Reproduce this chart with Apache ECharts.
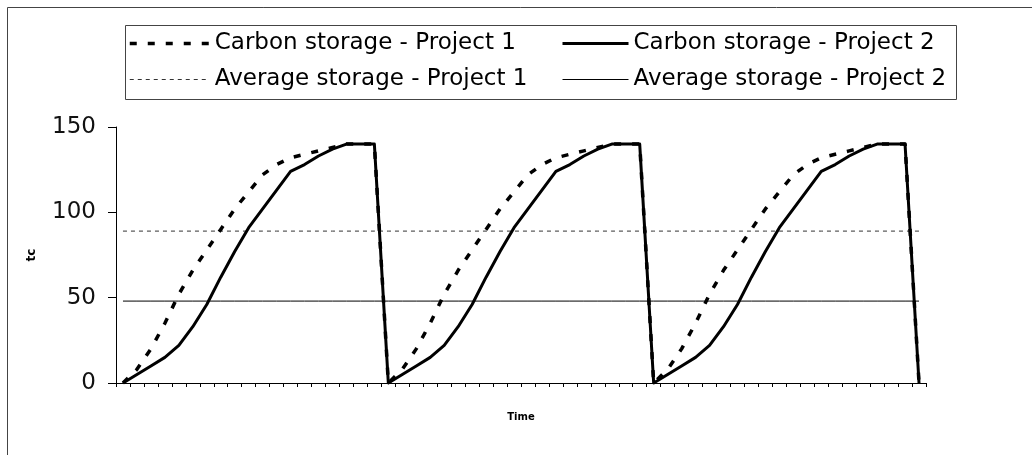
<!DOCTYPE html>
<html>
<head>
<meta charset="utf-8">
<script src="https://cdn.jsdelivr.net/npm/echarts@6/dist/echarts.min.js"></script>
<style>
html,body{margin:0;padding:0;background:#fff;}
#chart{width:1032px;height:455px;}
</style>
</head>
<body>
<div id="chart"></div>
<script>
// x categories (time steps, no tick labels shown)
const categories = [
  1,2,3,4,5,6,7,8,9,10,11,12,13,14,15,16,17,18,19,20,
  21,22,23,24,25,26,27,28,29,30,31,32,33,34,35,36,37,38,39,40,
  41,42,43,44,45,46,47,48,49,50,51,52,53,54,55,56,57,58
];
// Carbon storage - Project 1 (dashed thick)
const carbonP1 = [
  0, 8, 20, 35, 52, 66, 78, 90, 102, 112, 122, 128, 132, 134, 136, 138, 140, 140, 140,
  0, 8, 20, 35, 52, 66, 78, 90, 102, 112, 122, 128, 132, 134, 136, 138, 140, 140, 140,
  0, 8, 20, 35, 52, 66, 78, 90, 102, 112, 122, 128, 132, 134, 136, 138, 140, 140, 140,
  0
];
// Carbon storage - Project 2 (solid thick)
const carbonP2 = [
  0, 5, 10, 15, 22, 33, 46, 62, 77, 91, 102, 113, 124, 128, 133, 137, 140, 140, 140,
  0, 5, 10, 15, 22, 33, 46, 62, 77, 91, 102, 113, 124, 128, 133, 137, 140, 140, 140,
  0, 5, 10, 15, 22, 33, 46, 62, 77, 91, 102, 113, 124, 128, 133, 137, 140, 140, 140,
  0
];
// Average storage levels
const avgP1Value = 89;
const avgP2Value = 48;
const avgP1 = categories.map(() => avgP1Value);
const avgP2 = categories.map(() => avgP2Value);
// y axis ticks
const yMin = 0, yMax = 150, yInterval = 50;

const names = [
  'Carbon storage - Project 1',
  'Carbon storage - Project 2',
  'Average storage - Project 1',
  'Average storage - Project 2'
];

const chart = echarts.init(document.getElementById('chart'), null, {renderer: 'canvas'});
const legendText = {fontFamily: 'DejaVu Sans', fontSize: 23, color: '#000', lineHeight: 27};
const hiddenSymbol = {opacity: 0, color: 'rgba(0,0,0,0)', borderWidth: 0};
const legendLine = {width: 'inherit', type: 'inherit', color: 'inherit'};
chart.setOption({
  animation: false,
  backgroundColor: '#fff',
  graphic: [
    {type: 'rect', shape: {x: 7.5, y: 7.5, width: 1040, height: 470},
     style: {fill: 'none', stroke: '#444', lineWidth: 1}, silent: true, z: -1},
    {type: 'rect', shape: {x: 125.5, y: 25.5, width: 831, height: 74},
     style: {fill: 'none', stroke: '#444', lineWidth: 1}, silent: true, z: -1}
  ],
  legend: [
    {
      data: [names[0], names[2]],
      orient: 'vertical', left: 128, top: 30,
      itemWidth: 80, itemHeight: 14, itemGap: 9,
      itemStyle: hiddenSymbol, lineStyle: legendLine,
      textStyle: legendText, padding: 0
    },
    {
      data: [names[1], names[3]],
      orient: 'vertical', left: 561, top: 30,
      itemWidth: 66, itemHeight: 14, itemGap: 9,
      itemStyle: hiddenSymbol, lineStyle: legendLine,
      textStyle: legendText, padding: 0
    }
  ],
  grid: {left: 116, right: 106, top: 127, bottom: 72, containLabel: false},
  xAxis: {
    type: 'category',
    data: categories,
    boundaryGap: true,
    name: 'Time',
    nameLocation: 'middle',
    nameGap: 29,
    nameTextStyle: {fontFamily: 'DejaVu Sans', fontSize: 10, fontWeight: 'bold', color: '#000'},
    axisLine: {lineStyle: {color: '#000', width: 1}},
    axisTick: {show: true, interval: 0, length: 4, lineStyle: {color: '#000'}},
    axisLabel: {show: false},
    splitLine: {show: false}
  },
  yAxis: {
    type: 'value',
    min: yMin, max: yMax, interval: yInterval,
    name: 'tc',
    nameLocation: 'middle',
    nameRotate: 90,
    nameGap: 78,
    nameTextStyle: {fontFamily: 'DejaVu Sans', fontSize: 12, fontWeight: 'bold', color: '#000'},
    axisLine: {show: true, lineStyle: {color: '#000', width: 1}},
    axisTick: {show: true, length: 8, lineStyle: {color: '#000'}},
    axisLabel: {margin: 20, fontFamily: 'DejaVu Sans', fontSize: 23, color: '#111'},
    splitLine: {show: false}
  },
  series: [
    {
      name: names[2], type: 'line', data: avgP1, symbol: 'none', clip: false,
      lineStyle: {color: '#333', width: 1, type: [4, 4]}, itemStyle: {color: '#333'}, z: 2
    },
    {
      name: names[3], type: 'line', data: avgP2, symbol: 'none', clip: false,
      lineStyle: {color: '#000', width: 1, type: 'solid'}, itemStyle: {color: '#000'}, z: 2
    },
    {
      name: names[0], type: 'line', data: carbonP1, symbol: 'none', clip: false,
      lineStyle: {color: '#000', width: 3.5, type: [7, 11], join: 'round'}, itemStyle: {color: '#000'}, z: 3
    },
    {
      name: names[1], type: 'line', data: carbonP2, symbol: 'none', clip: false,
      lineStyle: {color: '#000', width: 3, type: 'solid', join: 'round'}, itemStyle: {color: '#000'}, z: 4
    }
  ]
});
</script>
</body>
</html>
